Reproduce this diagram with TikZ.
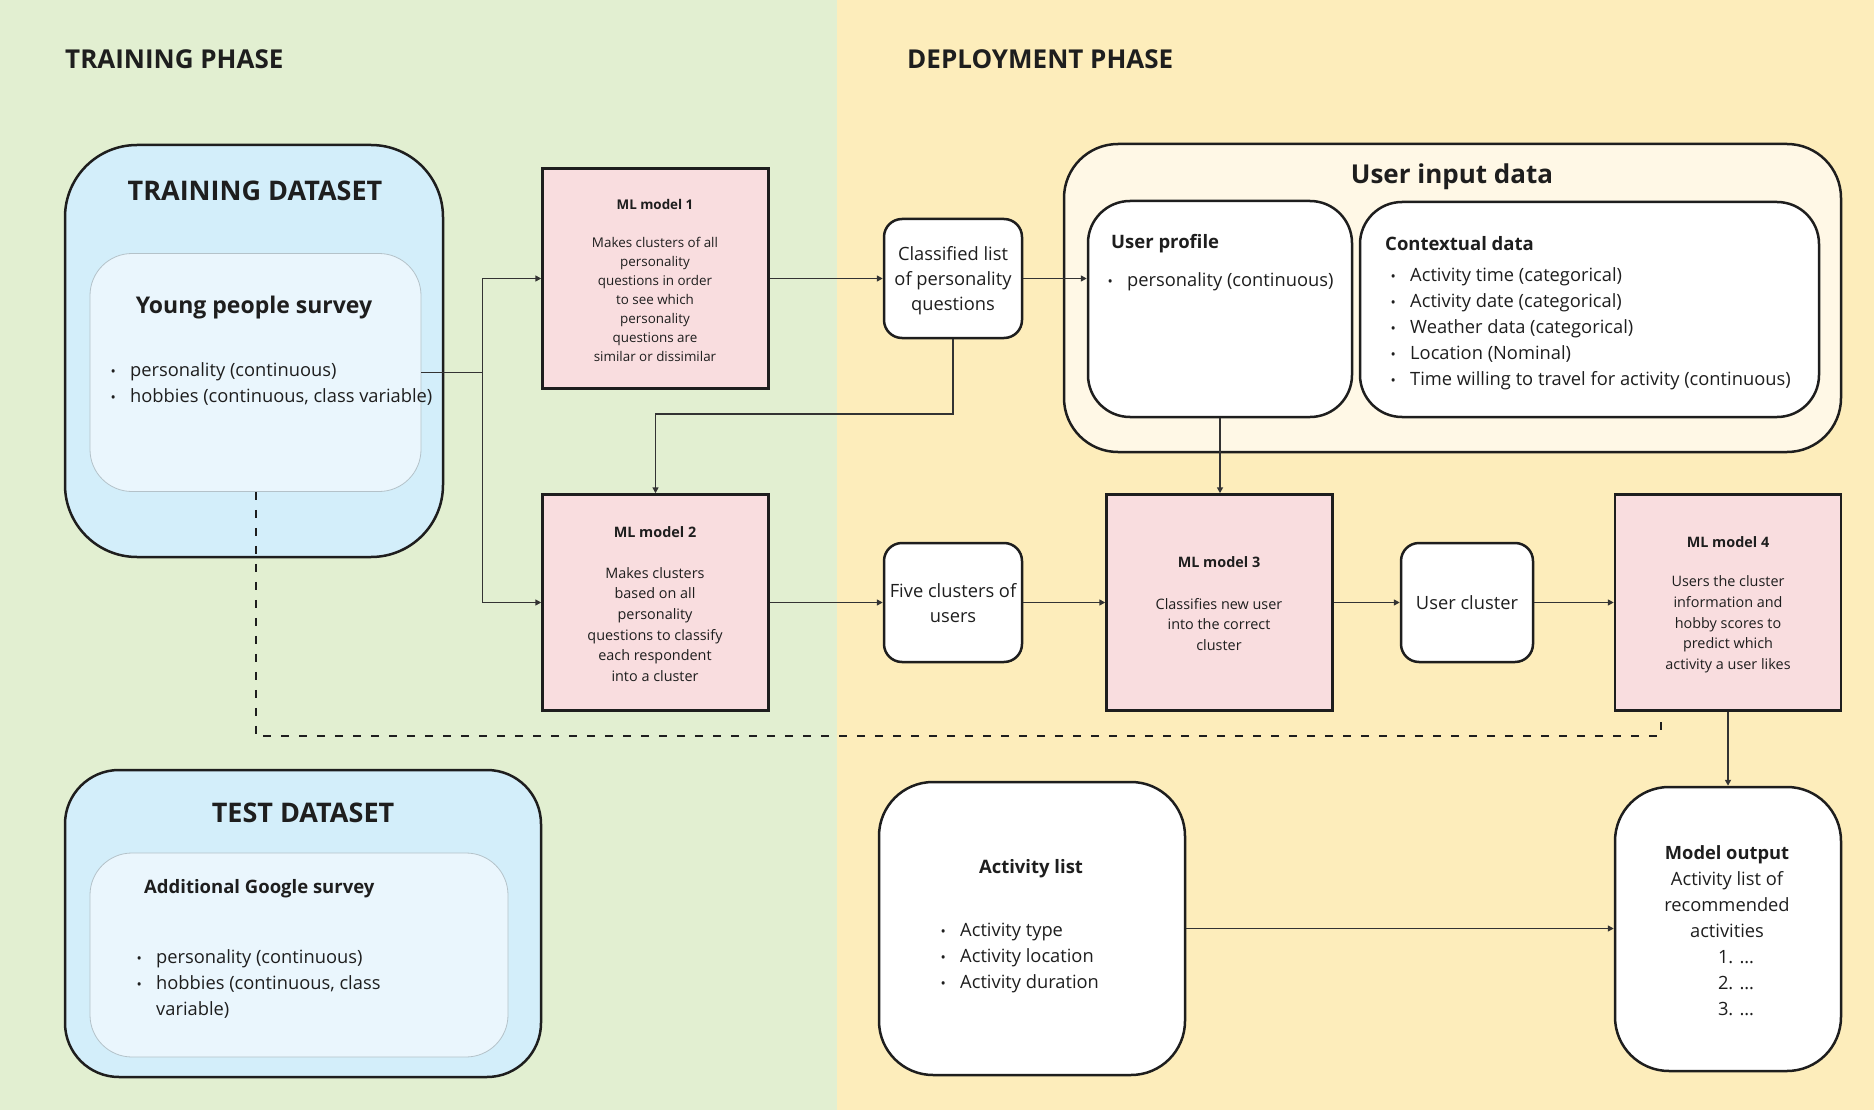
\documentclass[tikz,border=0pt]{standalone}
\usepackage{fontspec}
\setmainfont{Open Sans}
\usetikzlibrary{arrows.meta}
\definecolor{bggreen}{HTML}{E2EFD1}
\definecolor{bgyellow}{HTML}{FDEDBB}
\definecolor{dsblue}{HTML}{D3EEFA}
\definecolor{innerblue}{HTML}{EAF6FD}
\definecolor{innerline}{HTML}{B4C2C9}
\definecolor{mlpink}{HTML}{F9DDDF}
\definecolor{cream}{HTML}{FFF8E6}
\definecolor{ink}{HTML}{1E1E1E}
\definecolor{linegrey}{HTML}{333333}
\newcommand\fbody{\fontsize{18.3}{26}\selectfont}
\newcommand\fsmall{\fontsize{13.4}{19}\selectfont}
\newcommand\fmid{\fontsize{14.4}{20.7}\selectfont}
\newcommand\fsub{\fontsize{18.5}{26}\selectfont\bfseries}
\newcommand\ftitle{\fontsize{26}{30}\selectfont\bfseries}
\newcommand\fbigtitle{\fontsize{27}{32}\selectfont\bfseries}
\newcommand\fhead{\fontsize{23}{28}\selectfont\bfseries}
\newcommand\bul{\makebox[18pt][l]{\hspace*{-1.5pt}{\fontsize{14}{14}\selectfont •}}}
\tikzset{
  every node/.style={text=ink, inner sep=0pt},
  bigbox/.style={draw=ink, line width=2.5pt, rounded corners=#1},
  dsbox/.style={bigbox=#1, fill=dsblue},
  innerbox/.style={draw=innerline, line width=0.8pt, fill=innerblue, rounded corners=42pt},
  mlbox/.style={draw=ink, line width=2.5pt, fill=mlpink, minimum width=226pt},
  whitebox/.style={bigbox=#1, fill=white},
  arr/.style={draw=linegrey, line width=1.6pt, -{Triangle[length=6pt,width=6pt]}},
  plain/.style={draw=linegrey, line width=1.6pt},
  dsh/.style={draw=ink, line width=2pt, dash pattern=on 8pt off 10pt},
}
\begin{document}
\begin{tikzpicture}[x=1pt,y=-1pt]
\useasboundingbox (0,0) rectangle (1874,1110);
\fill[bggreen] (0,0) rectangle (837,1110);
\fill[bgyellow] (837,0) rectangle (1874,1110);

\node[anchor=west,font=\ftitle] (tphase) at (65,59) {TRAINING PHASE};
\node[anchor=west,font=\ftitle] (dphase) at (907,59) {DEPLOYMENT PHASE};

% Training dataset
\node[dsbox=72pt, minimum width=378pt, minimum height=412pt] (tds) at (254,351) {};
\node[font=\fbigtitle] (tdst) at (255,191) {TRAINING DATASET};
\node[innerbox, minimum width=331pt, minimum height=238pt] (yps) at (255.5,372.5) {};
\node[font=\fhead] (ypst) at (254,308) {Young people survey};
\node[anchor=west, align=left, font=\fbody] (ypsl) at (112,383.5)
  {\bul personality (continuous)\\\bul hobbies (continuous, class variable)};

% ML models 1 and 2
\node[mlbox, minimum height=220pt] (ml1) at (655.5,278.5) {};
\node[font=\fsmall\bfseries] (ml1t) at (655,204) {ML model 1};
\node[align=center, font=\fsmall] (ml1b) at (655,299.5)
  {Makes clusters of all\\personality\\questions in order\\to see which\\personality\\questions are\\similar or dissimilar};
\node[mlbox, minimum height=216pt] (ml2) at (655.5,602.5) {};
\node[font=\fmid\bfseries] (ml2t) at (655,532) {ML model 2};
\node[align=center, font=\fmid] (ml2b) at (655,624.5)
  {Makes clusters\\based on all\\personality\\questions to classify\\each respondent\\into a cluster};

% Small white boxes
\node[whitebox=18pt, minimum width=138pt, minimum height=119pt, align=center, font=\fontsize{18.3}{25}\selectfont] (cls) at (953,278.5)
  {\rule{0pt}{18pt}Classified list\\of personality\\questions};
\node[whitebox=18pt, minimum width=138pt, minimum height=119pt, align=center, font=\fontsize{18.3}{25}\selectfont] (five) at (953,602.5)
  {\rule{0pt}{16pt}Five clusters of\\users};
\node[whitebox=18pt, minimum width=132pt, minimum height=119pt, font=\fbody] (ucl) at (1467,602.5) {User cluster};

% ML models 3 and 4
\node[mlbox, minimum height=216pt] (ml3) at (1219.5,602.5) {};
\node[font=\fmid\bfseries] (ml3t) at (1219,562) {ML model 3};
\node[align=center, font=\fmid] (ml3b) at (1219,624.5)
  {Classifies new user\\into the correct\\cluster};
\node[mlbox, minimum height=216pt] (ml4) at (1728,602.5) {};
\node[font=\fmid\bfseries] (ml4t) at (1728,542) {ML model 4};
\node[align=center, font=\fmid] (ml4b) at (1728,624.5)
  {Users the cluster\\information and\\hobby scores to\\predict which\\activity a user likes};

% User input data
\node[bigbox=54pt, fill=cream, minimum width=777pt, minimum height=308pt] (uid) at (1452.5,298) {};
\node[font=\ftitle] (uidt) at (1452,177) {User input data};
\node[whitebox=42pt, minimum width=264pt, minimum height=216pt] (upr) at (1220,309) {};
\node[anchor=west, font=\fsub] (uprt) at (1111,243.5) {User profile};
\node[anchor=west, font=\fbody] (uprl) at (1109,281.5) {\bul personality (continuous)};
\node[whitebox=42pt, minimum width=459pt, minimum height=215pt] (ctx) at (1589.5,309.5) {};
\node[anchor=west, font=\fsub] (ctxt) at (1385,243.5) {Contextual data};
\node[anchor=west, align=left, font=\fbody] (ctxl) at (1392,328.5)
  {\bul Activity time (categorical)\\\bul Activity date (categorical)\\\bul Weather data (categorical)\\\bul Location (Nominal)\\\bul Time willing to travel for activity (continuous)};

% Test dataset
\node[dsbox=54pt, minimum width=476pt, minimum height=307pt] (tst) at (303,923.5) {};
\node[font=\fbigtitle] (tstt) at (303,812.5) {TEST DATASET};
\node[innerbox, minimum width=418pt, minimum height=204pt] (ags) at (299,955) {};
\node[anchor=west, font=\fsub] (agst) at (144,889) {Additional Google survey};
\node[anchor=west, align=left, font=\fbody] (agsl) at (138,984)
  {\bul personality (continuous)\\\bul hobbies (continuous, class\\\hspace*{18pt}variable)};

% Activity list
\node[whitebox=54pt, minimum width=306pt, minimum height=293pt] (act) at (1032,928.5) {};
\node[font=\fsub] (actt) at (1031,869) {Activity list};
\node[anchor=west, align=left, font=\fbody] (actl) at (942,958)
  {\bul Activity type\\\bul Activity location\\\bul Activity duration};

% Model output
\node[whitebox=54pt, minimum width=226pt, minimum height=284pt] (mout) at (1728,929) {};
\node[align=center, font=\fbody] (moutt) at (1727,930.3)
  {{\bfseries Model output}\\Activity list of\\recommended\\activities\\\hspace*{18pt}1. …\\\hspace*{18pt}2. …\\\hspace*{18pt}3. …};

% Connectors
\draw[plain] (yps.east) -- ++(61,0) coordinate (j1);
\draw[arr] (j1) |- (ml1.west);
\draw[arr] (j1) |- (ml2.west);
\draw[arr] (ml1.east) -- (cls.west);
\draw[arr] (cls.east) -- (cls.east -| upr.west);
\draw[arr] (cls.south) -- ++(0,75) -| (ml2.north);
\draw[arr] (ml2.east) -- (five.west);
\draw[arr] (five.east) -- (ml3.west);
\draw[arr] (upr.south) -- (upr.south |- ml3.north);
\draw[arr] (ml3.east) -- (ucl.west);
\draw[arr] (ucl.east) -- (ml4.west);
\draw[arr] (ml4.south) -- (mout.north);
\draw[arr] (act.east) -- (act.east -| mout.west);
\coordinate (dc) at (1661,736);
\draw[dsh] (yps.south) |- (dc) -- (dc |- ml4.south);
\end{tikzpicture}
\end{document}
